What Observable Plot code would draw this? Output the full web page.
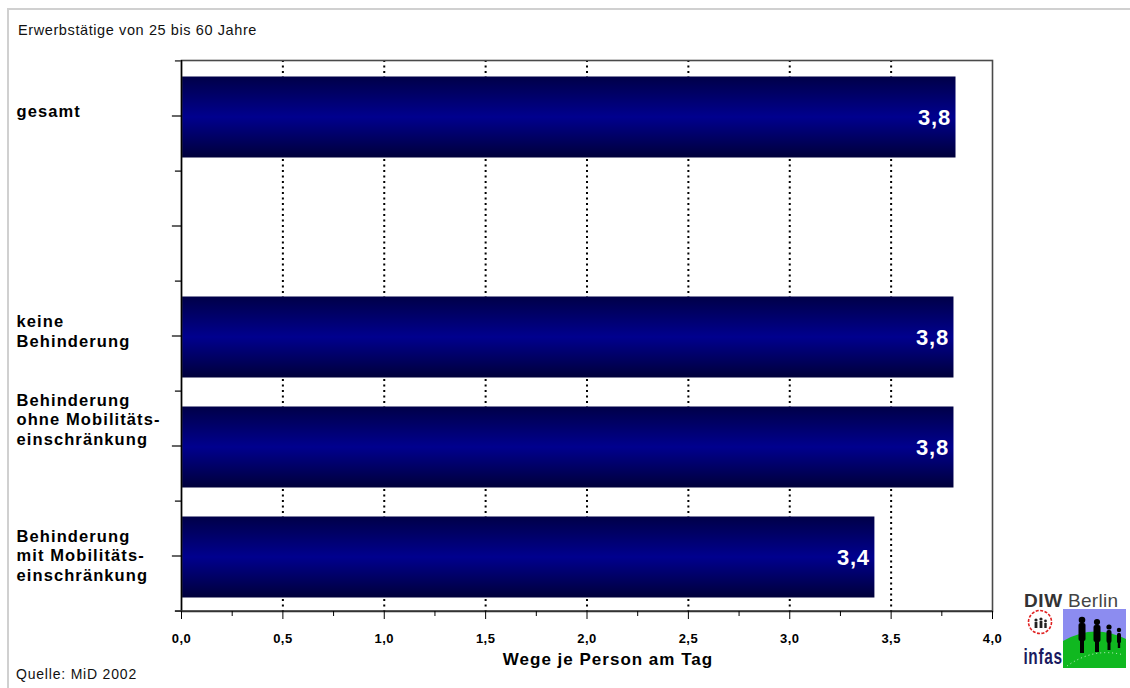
<!DOCTYPE html>
<html>
<head>
<meta charset="utf-8">
<script src="https://cdn.jsdelivr.net/npm/d3@7"></script>
<script src="https://cdn.jsdelivr.net/npm/@observablehq/plot@0.6"></script>
<style>
  html, body { margin: 0; padding: 0; background: #fff; }
  body { font-family: "Liberation Sans", Arial, sans-serif; }
  #wrap { position: relative; width: 1130px; height: 688px; overflow: hidden; }
  #frame { position: absolute; left: 7px; top: 8px; width: 1140px; height: 700px;
           border-top: 2px solid #d0d0d0; border-left: 2px solid #d0d0d0; }
  #title { position: absolute; left: 18px; top: 22px; font-size: 14.5px; color: #111; letter-spacing: 0.6px; }
  #source { position: absolute; left: 16px; top: 666px; font-size: 14px; color: #111; letter-spacing: 0.8px; }
  #chart { position: absolute; left: 0; top: 0; }
  #logo { position: absolute; left: 1022px; top: 589px; width: 108px; height: 82px; }
</style>
</head>
<body>
<div id="wrap">
  <div id="frame"></div>
  <div id="chart"></div>
  <div id="title">Erwerbstätige von 25 bis 60 Jahre</div>
  <div id="source">Quelle: MiD 2002</div>
  <div id="logo">
    <svg width="108" height="82" xmlns="http://www.w3.org/2000/svg" font-family="Liberation Sans, Arial, sans-serif">
      <text x="2" y="18" font-size="19" font-weight="bold" fill="#333" letter-spacing="0.6">DIW</text>
      <text x="46" y="18" font-size="19" fill="#444" letter-spacing="0.3">Berlin</text>
      <circle cx="18" cy="33" r="11.5" fill="none" stroke="#e02020" stroke-width="1.6" stroke-dasharray="3,1.5"/>
      <g fill="#222">
        <circle cx="14" cy="31" r="1.6"/><rect x="12.6" y="33" width="2.8" height="6"/>
        <circle cx="19" cy="30" r="1.6"/><rect x="17.6" y="32" width="2.8" height="7"/>
        <circle cx="23.5" cy="32" r="1.4"/><rect x="22.3" y="34" width="2.4" height="5"/>
      </g>
      <text x="2" y="75" font-size="22" font-weight="bold" fill="#1a1a60" transform="scale(0.7,1)" letter-spacing="1">infas</text>
      <rect x="41" y="20" width="63" height="59" fill="#8c8cf0"/>
      <path d="M41,79 L41,52 Q72,34 104,50 L104,79 Z" fill="#10b820"/>
      <g fill="#000">
        <circle cx="60" cy="31" r="3.3"/><rect x="56.5" y="34" width="7" height="18" rx="2"/><rect x="58" y="50" width="4" height="14"/>
        <circle cx="75" cy="33" r="3.1"/><rect x="71.5" y="36" width="7" height="17" rx="2"/><rect x="73" y="51" width="4" height="12"/>
        <circle cx="87" cy="38" r="2.6"/><rect x="84.5" y="41" width="5" height="13" rx="2"/><rect x="85.5" y="52" width="3" height="9"/>
        <circle cx="97" cy="41" r="2.2"/><rect x="95" y="44" width="4" height="10" rx="1.5"/><rect x="95.8" y="52" width="2.4" height="7"/>
      </g>
      <path d="M45,77 Q72,58 102,66" fill="none" stroke="#fff" stroke-width="0.8" stroke-dasharray="1,3"/>
    </svg>
  </div>
</div>
<script>
// ---- data ----
const categories = ["gesamt", " ", "keine Behinderung", "Behinderung ohne Mobilitätseinschränkung", "Behinderung mit Mobilitätseinschränkung"];
const barCategories = ["gesamt", "keine Behinderung", "Behinderung ohne Mobilitätseinschränkung", "Behinderung mit Mobilitätseinschränkung"];
const values = [3.82, 3.81, 3.81, 3.42];
const categoryLabels = ["gesamt", "keine\nBehinderung", "Behinderung\nohne Mobilitäts-\neinschränkung", "Behinderung\nmit Mobilitäts-\neinschränkung"];
const xTicks = [0, 0.5, 1, 1.5, 2, 2.5, 3, 3.5, 4];
const xMinorTicks = [0.25, 0.75, 1.25, 1.75, 2.25, 2.75, 3.25, 3.75];
const gridTicks = [0.5, 1, 1.5, 2, 2.5, 3, 3.5];
const xLabel = "Wege je Person am Tag";

const bars = barCategories.map((c, i) => ({cat: c, value: values[i], label: categoryLabels[i]}));

// ---- layout ----
const W = 1130, H = 688;
const mL = 181, mR = 138, mT = 60, mB = 77;
const padIn = 0.26;
const step = (H - mT - mB) / categories.length;
const labelDy = [-5, -5, -27, -1];

const fmt = d => d.toFixed(1).replace(".", ",");

const plot = Plot.plot({
  width: W,
  height: H,
  marginLeft: mL,
  marginRight: mR,
  marginTop: mT,
  marginBottom: mB,
  style: {fontFamily: "Liberation Sans, Arial, sans-serif", color: "#000", background: "transparent"},
  x: {domain: [0, 4], axis: null},
  y: {domain: categories, axis: null, paddingInner: padIn, paddingOuter: padIn / 2},
  marks: [
    Plot.ruleX(gridTicks, {x: d => d, stroke: "#000", strokeWidth: 2, strokeDasharray: "2,3.5"}),
    Plot.barX(bars, {x: "value", y: "cat", fill: "url(#barGrad)", dy: 1.5}),
    Plot.ruleX(bars, {x: 0, y: "cat", stroke: "#1a7a1a", strokeWidth: 1.2, dx: 1, dy: 1.5}),
    Plot.frame({stroke: "#4a4a4a", strokeWidth: 1.6}),
    Plot.ruleX([0], {stroke: "#000", strokeWidth: 1.4}),
    // y ticks at band centres
    Plot.ruleY(categories, {y: d => d, x1: -0.045, x2: 0, stroke: "#000", strokeWidth: 1.2}),
    // y ticks at band boundaries
    Plot.ruleY(categories, {y: d => d, x1: -0.03, x2: 0, stroke: "#000", strokeWidth: 1.2, dy: step / 2}),
    Plot.ruleY(categories.slice(0, 1), {y: d => d, x1: -0.03, x2: 0, stroke: "#4a4a4a", strokeWidth: 1.6, dy: -step / 2}),
    Plot.ruleY(categories.slice(-1), {y: d => d, x1: -0.03, x2: 4, stroke: "#333", strokeWidth: 1.6, dy: step / 2}),
    Plot.axisX({ticks: xTicks, tickFormat: fmt, tickSize: 8, tickPadding: 14, fontSize: 13, fontWeight: "bold", label: null, stroke: "#000"}),
    Plot.axisX({ticks: xMinorTicks, tickFormat: () => "", tickSize: 5, label: null, stroke: "#000"}),
    Plot.text([xLabel], {text: d => d, frameAnchor: "bottom", dx: 21, dy: 53, fontSize: 17, fontWeight: "bold", fill: "#000"}),
    Plot.text(bars, {x: "value", y: "cat", text: d => fmt(d.value), dx: -5, dy: 1.5, textAnchor: "end", fill: "#fff", fontSize: 22, fontWeight: "bold"}),
    ...bars.map((b, i) => Plot.text([b], {y: "cat", text: "label", frameAnchor: "left", dx: -(mL - 16), dy: labelDy[i], textAnchor: "start", lineAnchor: "middle", lineHeight: 1.2, fontSize: 16.5, fontWeight: "bold", fill: "#000"}))
  ]
});

const svg = d3.select(plot);
// letter spacing to match the reference's wide screen rendering (selected by font size)
const spacing = {"16.5": 1.1, "17": 1, "22": 0.8, "13": 0.4};
svg.selectAll("g").each(function() {
  const fs = this.getAttribute("font-size");
  if (fs && spacing[fs] !== undefined) {
    this.setAttribute("letter-spacing", spacing[fs]);
  }
});

// gradient definition for the bars
const defs = svg.insert("defs", ":first-child");
const g = defs.append("linearGradient").attr("id", "barGrad").attr("x1", 0).attr("y1", 0).attr("x2", 0).attr("y2", 1);
g.append("stop").attr("offset", "0%").attr("stop-color", "#000048");
g.append("stop").attr("offset", "50%").attr("stop-color", "#00008e");
g.append("stop").attr("offset", "100%").attr("stop-color", "#00003a");

document.getElementById("chart").appendChild(plot);
</script>
</body>
</html>
